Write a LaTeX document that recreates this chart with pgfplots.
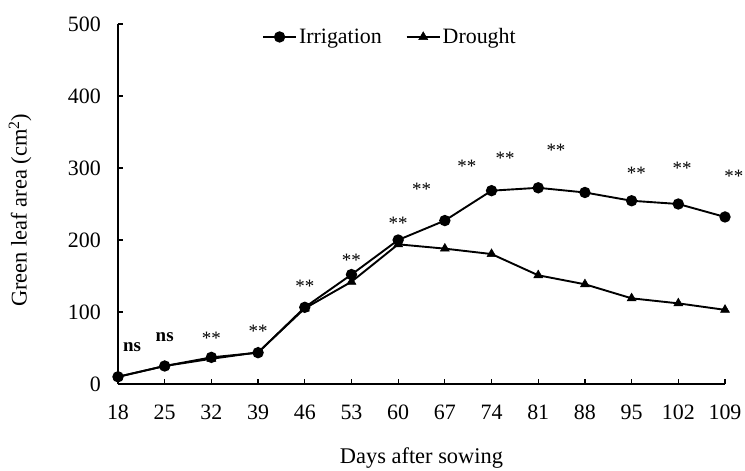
\documentclass[border=0pt]{standalone}
\usepackage{pgfplots}
\pgfplotsset{compat=1.18}
\usepackage{fontspec}
\setmainfont{Liberation Serif}
\begin{document}
\begin{tikzpicture}
\begin{axis}[
  at={(0,0)}, anchor=origin,
  scale only axis, width=607bp, height=360bp,
  xmin=0, xmax=13, ymin=0, ymax=500,
  axis x line*=bottom, axis y line*=left,
  axis line style={-, line width=1.7bp},
  tick style={line width=1.3bp, black}, major tick length=5bp, tick align=inside,
  xtick={0,1,2,3,4,5,6,7,8,9,10,11,12,13},
  xticklabels={18,25,32,39,46,53,60,67,74,81,88,95,102,109},
  ytick={0,100,200,300,400,500},
  /pgf/number format/assume math mode=true,
  xticklabel style={font=\fontsize{22}{26}\selectfont, inner sep=0pt, anchor=north, yshift=-21bp},
  yticklabel style={font=\fontsize{22}{26}\selectfont, inner sep=0pt, anchor=east, xshift=-17bp},
  xlabel={Days after sowing},
  ylabel={Green leaf area (cm\textsuperscript{2})},
  xlabel style={font=\fontsize{22.5}{26}\selectfont, at={(axis description cs:0.5,-0.205)}, anchor=center},
  ylabel style={font=\fontsize{22.5}{26}\selectfont, at={(axis description cs:-0.1614,0.483)}, anchor=center},
  legend columns=2,
  legend style={draw=none, fill=none, at={(0.448,0.964)}, anchor=center,
    font=\fontsize{22}{26}\selectfont,
    /tikz/every even column/.append style={column sep=22bp},
    inner sep=0pt},
  legend image code/.code={\draw[mark repeat=2,mark phase=2] plot coordinates {(0bp,0bp) (16.5bp,0bp) (33bp,0bp)};},
  clip=false,
]
\addplot[black, line width=1.9bp, mark=*, mark size=4.7bp] table {
0 10
1 25
2 37
3 43.5
4 106.5
5 152
6 200
7 227
8 268.5
9 272.5
10 266
11 254.5
12 250
13 232
};
\addlegendentry{Irrigation}
\addplot[black, line width=1.9bp, mark=triangle*, mark size=5.2bp, mark options={line width=0.5bp}] table {
0 10
1 25
2 35
3 44
4 105
5 142
6 194
7 188
8 180.5
9 151
10 138.5
11 119
12 112
13 103
};
\addlegendentry{Drought}
\begin{scope}[every node/.style={font=\fontsize{19}{21}\selectfont, inner sep=0pt}]
\node at (axis cs:0.3,51) {\textbf{ns}};
\node at (axis cs:1.0,65) {\textbf{ns}};
\node at (axis cs:2.0,64) {**};
\node at (axis cs:3.0,73) {**};
\node at (axis cs:4.0,135) {**};
\node at (axis cs:5.0,172) {**};
\node at (axis cs:6.0,223) {**};
\node at (axis cs:6.5,271) {**};
\node at (axis cs:7.47,302) {**};
\node at (axis cs:8.29,313) {**};
\node at (axis cs:9.38,324) {**};
\node at (axis cs:11.1,292) {**};
\node at (axis cs:12.08,300) {**};
\node at (axis cs:13.19,288) {**};
\end{scope}
\end{axis}
\pgfresetboundingbox
\useasboundingbox (-118bp,-87bp) rectangle (627bp,384bp);
\end{tikzpicture}
\end{document}
